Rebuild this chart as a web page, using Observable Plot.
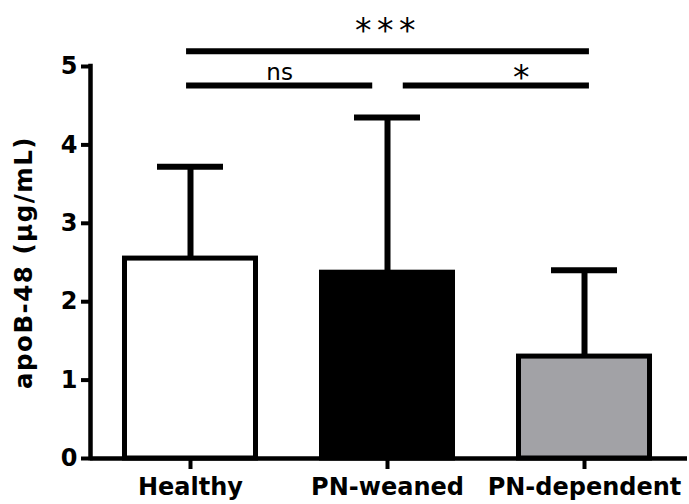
<!DOCTYPE html>
<html><head><meta charset="utf-8">
<script src="https://cdn.jsdelivr.net/npm/d3@7"></script>
<script src="https://cdn.jsdelivr.net/npm/@observablehq/plot@0.6"></script>
<style>
body{margin:0;background:#fff}
#chart svg{display:block}
</style></head><body><div id="chart"></div>
<script>
// ---- data ----
const categories = ["Healthy", "PN-weaned", "PN-dependent"];
const means = [2.55, 2.37, 1.30];
const sds = [1.17, 1.98, 1.10];
const fills = ["#ffffff", "#000000", "#a2a2a6"];
const yTicks = [0, 1, 2, 3, 4, 5];
const yLabel = "apoB-48 (µg/mL)";
const compFrom = ["Healthy", "PN-weaned", "Healthy"];
const compTo = ["PN-weaned", "PN-dependent", "PN-dependent"];
const compLabel = ["ns", "*", "***"];
const compTier = [0, 0, 1];

// ---- layout constants ----
const W = 689, H = 504;
const xDomain = [-0.5076, 2.5228];
const barHalf = 0.3325, capHalf = 0.1675;
const tierBase = 4.758, tierStep = 0.437;
const font = "DejaVu Sans";

const idx = c => categories.indexOf(c);
const bars = categories.map((c, i) => ({category: c, i, mean: means[i], sd: sds[i]}));
const comps = compLabel.map((label, k) => {
  const a = idx(compFrom[k]), b = idx(compTo[k]), tier = compTier[k];
  const sameTier = compLabel.map((_, j) => j).filter(j => j !== k && compTier[j] === tier);
  const insetStart = sameTier.some(j => idx(compTo[j]) === a);
  const insetEnd = sameTier.some(j => idx(compFrom[j]) === b);
  const x1 = a - 0.02 + (insetStart ? 0.1 : 0);
  const x2 = b + 0.025 - (insetEnd ? 0.1 : 0);
  return {label, x1, x2, mid: (x1 + x2) / 2, y: tierBase + tier * tierStep};
});

const chart = Plot.plot({
  width: W, height: H,
  marginLeft: 90, marginRight: 2, marginTop: 66, marginBottom: 46,
  style: {fontFamily: font, background: "#fff", color: "#000"},
  x: {domain: xDomain, axis: null},
  y: {domain: [0, 5], axis: null},
  color: {domain: categories, range: fills},
  marks: [
    // error bar stems
    Plot.ruleX(bars, {x: "i", y1: "mean", y2: d => d.mean + d.sd, stroke: "#000", strokeWidth: 6}),
    // caps
    Plot.ruleY(bars, {y: d => d.mean + d.sd, x1: d => d.i - capHalf, x2: d => d.i + capHalf, stroke: "#000", strokeWidth: 6}),
    // bars
    Plot.rectY(bars, {x1: d => d.i - barHalf, x2: d => d.i + barHalf, y1: 0, y2: "mean", fill: "category", stroke: "#000", strokeWidth: 5}),
    // axes
    Plot.axisY({ticks: yTicks, tickFormat: d3.format("d"), tickSize: 9, tickPadding: 4, strokeWidth: 4,
      fontSize: 24, fontWeight: "bold", fontFamily: font, label: null}),
    Plot.axisX({ticks: [0, 1, 2], tickFormat: i => categories[i], tickSize: 11, tickPadding: 8, strokeWidth: 4,
      fontSize: 24, fontWeight: "bold", fontFamily: font, label: null}),
    Plot.ruleX([xDomain[0]], {y1: 0, y2: 5, stroke: "#000", strokeWidth: 4.5, strokeLinecap: "square"}),
    Plot.ruleY([0], {stroke: "#000", strokeWidth: 4.5}),
    // y label
    Plot.text([yLabel], {frameAnchor: "left", textAnchor: "middle", text: d => d, rotate: -90, dx: -66,
      fontSize: 24.5, fontWeight: "bold", fontFamily: font}),
    // significance brackets
    Plot.ruleY(comps, {y: "y", x1: "x1", x2: "x2", stroke: "#000", strokeWidth: 6}),
    Plot.text(comps.filter(d => d.label === "ns"), {x: "mid", y: "y", text: "label", dy: -13,
      fontSize: 23, fontFamily: font}),
    Plot.text(comps.filter(d => d.label === "***"), {x: "mid", y: "y", text: "label", dy: -20,
      fontSize: 33, fontFamily: font}),
    Plot.text(comps.filter(d => d.label === "*"), {x: "mid", y: "y", text: "label", dy: -7, dx: 25,
      fontSize: 33, fontFamily: font})
  ]
});
d3.select(chart).selectAll("text").filter(function () { return this.textContent === "***"; })
  .style("letter-spacing", "5.5px");
d3.select(chart).selectAll("text").filter(function () { return this.textContent === yLabel; })
  .style("letter-spacing", "1.5px");
document.getElementById("chart").appendChild(chart);
</script>
</body></html>
